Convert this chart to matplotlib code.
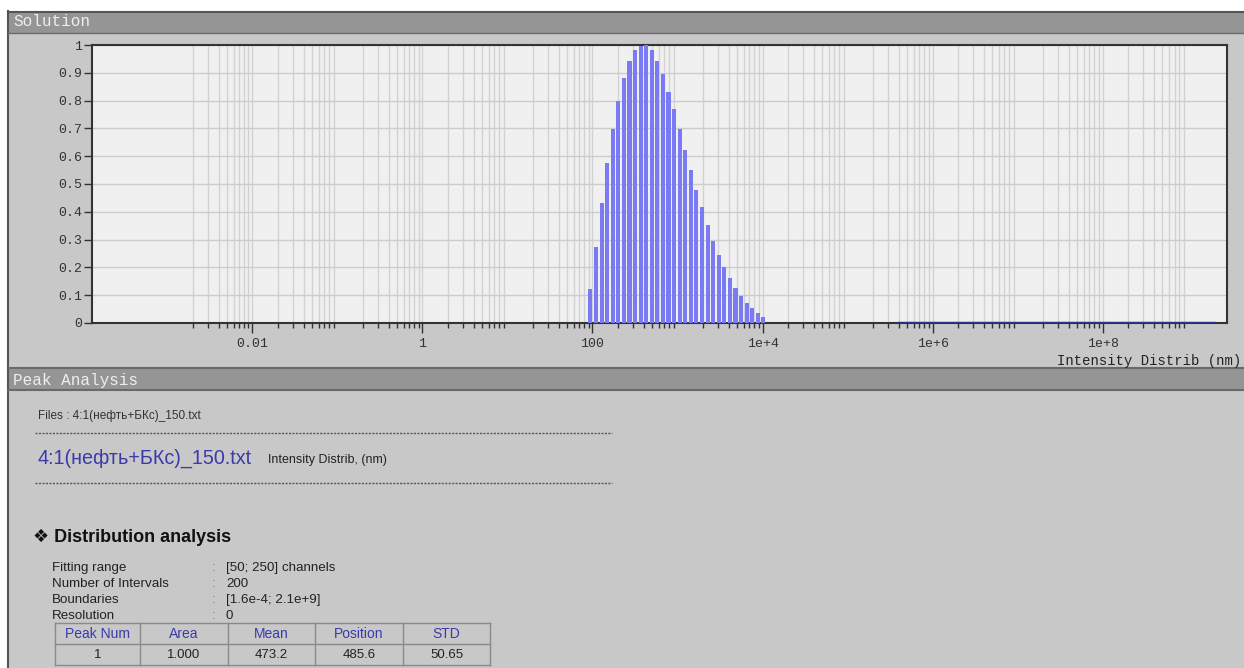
import numpy as np
import matplotlib.pyplot as plt
from matplotlib.patches import Rectangle

# Channel diameters (nm) with visible intensity
diameters = [94.6, 110.1, 128.0, 148.9, 173.2, 201.4, 234.3, 272.5,
             316.8, 368.5, 428.6, 498.5, 579.8, 674.3, 784.3, 912.2,
             1061, 1234, 1435, 1669, 1941, 2258, 2626, 3054,
             3552, 4131, 4805, 5588, 6499, 7559, 8792, 10218]
intensity = [0.121, 0.275, 0.430, 0.574, 0.698, 0.800, 0.882, 0.944,
             0.982, 0.998, 1.000, 0.982, 0.944, 0.894, 0.832, 0.770,
             0.698, 0.622, 0.550, 0.478, 0.416, 0.353, 0.295, 0.245,
             0.203, 0.161, 0.125, 0.097, 0.071, 0.053, 0.035, 0.020]
# near-zero tail at large sizes
tail_range = [3.9e5, 2.1e9]
tail_level = [0.003, 0.003]

major_ticks = [1e-2, 1, 1e2, 1e4, 1e6, 1e8]
major_labels = ["0.01", "1", "100", "1e+4", "1e+6", "1e+8"]
y_ticks = [0, 0.1, 0.2, 0.3, 0.4, 0.5, 0.6, 0.7, 0.8, 0.9, 1]
y_labels = ["0", "0.1", "0.2", "0.3", "0.4", "0.5", "0.6", "0.7", "0.8", "0.9", "1"]

file_name = "4:1(нефть+БКс)_150.txt"
dist_name = "Intensity Distrib, (nm)"
params = [("Fitting range", "[50; 250] channels"),
          ("Number of Intervals", "200"),
          ("Boundaries", "[1.6e-4; 2.1e+9]"),
          ("Resolution", "0")]
table_header = ["Peak Num", "Area", "Mean", "Position", "STD"]
table_row = ["1", "1.000", "473.2", "485.6", "50.65"]

W, H = 1244, 668
fig = plt.figure(figsize=(W / 100, H / 100), dpi=100)
fig.patch.set_facecolor("white")

# background layer in pixel coordinates
bg = fig.add_axes([0, 0, 1, 1])
bg.set_xlim(0, W)
bg.set_ylim(H, 0)
bg.axis("off")

panel = "#c8c8c8"
bar_grey = "#959595"
bg.add_patch(Rectangle((8, 11), W, H, facecolor=panel, edgecolor="none"))
bg.plot([8, 8], [11, H], color="#555555", lw=1.5)
# Solution title bar
bg.add_patch(Rectangle((8, 11), W, 22, facecolor=bar_grey, edgecolor="none"))
bg.plot([8, W], [11.5, 11.5], color="#555555", lw=1.5)
bg.plot([8, W], [33, 33], color="#6a6a6a", lw=1)
bg.text(13, 22, "Solution", family="Liberation Mono", fontsize=11.5,
        color="#eeeeee", va="center", ha="left")
# Peak Analysis title bar
bg.add_patch(Rectangle((8, 368), W, 22, facecolor=bar_grey, edgecolor="none"))
bg.plot([8, W], [368, 368], color="#6a6a6a", lw=1.5)
bg.plot([8, W], [390, 390], color="#6a6a6a", lw=1.5)
bg.text(13, 380, "Peak Analysis", family="Liberation Mono", fontsize=11.5,
        color="#eeeeee", va="center", ha="left")

# x label at the right end under the axis
bg.text(1241, 361, "Intensity Distrib (nm)", family="Liberation Mono",
        fontsize=10, color="#222222", va="center", ha="right")

# Peak analysis report
sans = ["Liberation Sans", "DejaVu Sans"]
bg.text(38, 416, "Files : " + file_name, family=sans, fontsize=8.5,
        color="#333333", va="center")
bg.plot([35, 612], [433, 433], color="#555555", lw=1, ls=(0, (1.5, 1)))
bg.text(37, 458, file_name, family=sans, fontsize=14.2, color="#3a3aaa",
        va="center")
bg.text(268, 460, dist_name, family=sans, fontsize=9, color="#222222",
        va="center")
bg.plot([35, 612], [483, 483], color="#555555", lw=1, ls=(0, (1.5, 1)))
bg.text(33, 537, "\u2756 Distribution analysis", family=sans, fontsize=13,
        weight="bold", color="#111111", va="center")
for i, (name, val) in enumerate(params):
    y = 568 + i * 16
    bg.text(52, y, name, family=sans, fontsize=9.6, color="#222222", va="center")
    bg.text(212, y, ":", family=sans, fontsize=9.6, color="#777777", va="center")
    bg.text(226, y, val, family=sans, fontsize=9.6, color="#222222", va="center")

# table
col_edges = [55, 140, 228, 315, 403, 490]
row_edges = [623, 644, 665]
for x in col_edges:
    bg.plot([x, x], [row_edges[0], row_edges[-1]], color="#8a8a8a", lw=1)
for y in row_edges:
    bg.plot([col_edges[0], col_edges[-1]], [y, y], color="#8a8a8a", lw=1)
for j in range(len(table_header)):
    cx = (col_edges[j] + col_edges[j + 1]) / 2
    bg.text(cx, 634, table_header[j], family=sans, fontsize=10,
            color="#3a3aaa", ha="center", va="center")
    bg.text(cx, 655, table_row[j], family=sans, fontsize=9.5,
            color="#222222", ha="center", va="center")

# distribution plot
ax = fig.add_axes([92 / W, (H - 323) / H, (1227 - 92) / W, (323 - 45) / H])
ax.set_facecolor("#f0f0f0")
ax.set_xscale("log")
ax.set_xlim(1.3e-4, 2.9e9)
ax.set_ylim(0, 1)

half = 10 ** 0.024
left = [d / half for d in diameters]
width = [d * half - d / half for d in diameters]
ax.bar(left, intensity, width=width, align="edge", color="#7a7af2",
       edgecolor="none", zorder=3)
ax.plot(tail_range, tail_level, color="#303088", lw=1, zorder=3)

minor = [m * 10.0 ** k for k in range(-3, 9) for m in range(2, 10)]
ax.set_xticks(major_ticks)
ax.set_xticklabels(major_labels)
ax.set_xticks(minor, minor=True)
ax.set_xticklabels([], minor=True)
ax.set_yticks(y_ticks)
ax.set_yticklabels(y_labels)
ax.grid(which="both", axis="x", color="#d2d2d2", lw=1, zorder=0)
ax.grid(which="major", axis="y", color="#cccccc", lw=1, zorder=0)
ax.set_axisbelow(True)

ax.tick_params(axis="x", which="major", length=7, width=1, color="#333333",
               pad=4, labelsize=9.5)
ax.tick_params(axis="x", which="minor", length=3.6, width=1, color="#333333")
ax.tick_params(axis="y", which="major", length=5.8, width=1, color="#333333",
               pad=1.5, labelsize=9.5)
for lab in ax.get_xticklabels() + ax.get_yticklabels():
    lab.set_family("Liberation Mono")
    lab.set_color("#333333")
for s in ax.spines.values():
    s.set_color("#333333")
    s.set_linewidth(1.5)

fig.savefig("out.png", dpi=100)
